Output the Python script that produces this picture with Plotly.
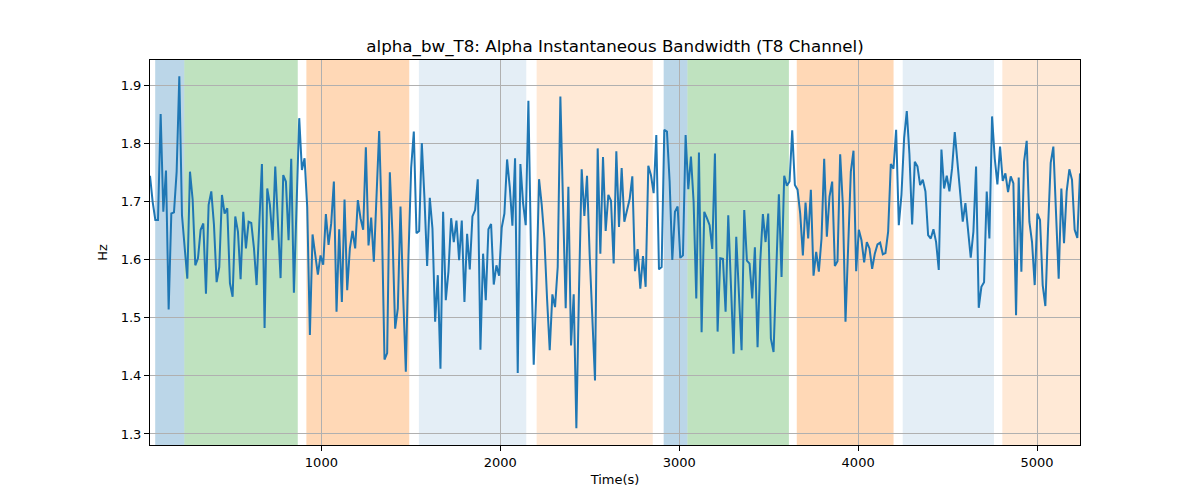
import numpy as np
import plotly.graph_objects as go

# alpha bandwidth, T8 channel (Hz) in order of time
bw = [
    1.744, 1.699, 1.668, 1.668, 1.850, 1.682, 1.753, 1.514, 1.679, 1.681,
    1.751, 1.915, 1.676, 1.623, 1.567, 1.751, 1.703, 1.590, 1.602, 1.651,
    1.662, 1.541, 1.694, 1.717, 1.660, 1.561, 1.587, 1.711, 1.679, 1.688,
    1.559, 1.536, 1.674, 1.648, 1.566, 1.682, 1.619, 1.665, 1.663, 1.620,
    1.556, 1.660, 1.764, 1.482, 1.722, 1.694, 1.633, 1.760, 1.670, 1.568,
    1.745, 1.734, 1.633, 1.773, 1.543, 1.690, 1.843,
    1.754, 1.774, 1.690, 1.470, 1.643, 1.610, 1.574, 1.607, 1.591, 1.678,
    1.625, 1.662, 1.734, 1.510, 1.652, 1.527, 1.703, 1.547, 1.619, 1.649,
    1.619, 1.702, 1.671, 1.651, 1.793, 1.624, 1.672, 1.596, 1.705, 1.821,
    1.665, 1.428, 1.439, 1.750, 1.642, 1.481, 1.516, 1.691, 1.539, 1.407,
    1.607, 1.757, 1.820, 1.645, 1.649, 1.800, 1.705, 1.589, 1.706, 1.653,
    1.493, 1.573, 1.412, 1.682, 1.530,
    1.579, 1.671, 1.630, 1.667, 1.599, 1.667, 1.527, 1.644, 1.583, 1.674,
    1.685, 1.738, 1.445, 1.610, 1.530, 1.652, 1.661, 1.557, 1.590, 1.572,
    1.655, 1.679, 1.772, 1.725, 1.658, 1.774, 1.405, 1.764, 1.697, 1.659,
    1.873, 1.607, 1.419, 1.550, 1.738, 1.694, 1.636, 1.533, 1.444, 1.540,
    1.518, 1.587, 1.880, 1.694, 1.516, 1.725, 1.452, 1.540, 1.310, 1.550,
    1.755, 1.675, 1.744, 1.607, 1.504, 1.392, 1.791,
    1.610, 1.776, 1.649, 1.711, 1.701, 1.593, 1.786, 1.656, 1.757, 1.665,
    1.682, 1.704, 1.743, 1.580, 1.618, 1.550, 1.606, 1.553, 1.761, 1.745,
    1.714, 1.814, 1.583, 1.587, 1.823, 1.820, 1.734, 1.599, 1.682, 1.691,
    1.603, 1.607, 1.814, 1.721, 1.777, 1.699, 1.533, 1.784, 1.475, 1.682,
    1.671, 1.659, 1.618, 1.782, 1.476, 1.602, 1.601, 1.510, 1.676, 1.556,
    1.438, 1.639, 1.550, 1.444, 1.685, 1.598, 1.593,
    1.533, 1.621, 1.449, 1.596, 1.678, 1.630, 1.679, 1.464, 1.441, 1.579,
    1.712, 1.570, 1.744, 1.727, 1.734, 1.822, 1.728, 1.720, 1.679, 1.607,
    1.698, 1.636, 1.720, 1.572, 1.613, 1.579, 1.636, 1.773, 1.639, 1.708,
    1.734, 1.589, 1.597, 1.781, 1.694, 1.493, 1.607, 1.751, 1.787, 1.580,
    1.651, 1.633, 1.595, 1.630, 1.619, 1.584, 1.610, 1.626, 1.629, 1.609,
    1.611, 1.648, 1.764, 1.756, 1.823, 1.659,
    1.711, 1.809, 1.855, 1.780, 1.660, 1.768, 1.760, 1.728, 1.737, 1.717,
    1.642, 1.636, 1.652, 1.630, 1.582, 1.789, 1.722, 1.744, 1.717, 1.757,
    1.819, 1.763, 1.711, 1.665, 1.697, 1.648, 1.603, 1.648, 1.760, 1.517,
    1.553, 1.561, 1.717, 1.636, 1.846, 1.774, 1.729, 1.794, 1.735, 1.748,
    1.716, 1.743, 1.731, 1.504, 1.741, 1.579, 1.768, 1.804, 1.665, 1.630,
    1.556, 1.679, 1.668, 1.556, 1.520, 1.653, 1.766, 1.794, 1.665, 1.567,
    1.722, 1.628, 1.717, 1.755, 1.737, 1.651, 1.637, 1.748,
]
t_start, t_end = 42, 5240
t = np.linspace(t_start, t_end, len(bw))

# shaded segments: start, end, colour
seg_start = [71, 234, 916, 1545, 2203, 2913, 3046, 3657, 4249, 4806]
seg_end = [234, 868, 1491, 2145, 2852, 3046, 3613, 4198, 4759, 5240]
seg_color = [
    'rgba(31,119,180,0.3)', 'rgba(44,160,44,0.3)', 'rgba(255,127,14,0.3)',
    'rgba(31,119,180,0.12)', 'rgba(255,127,14,0.17)',
    'rgba(31,119,180,0.3)', 'rgba(44,160,44,0.3)', 'rgba(255,127,14,0.3)',
    'rgba(31,119,180,0.12)', 'rgba(255,127,14,0.17)',
]

fig = go.Figure()
for s, e, c in zip(seg_start, seg_end, seg_color):
    fig.add_vrect(x0=s, x1=e, fillcolor=c, line_width=0, layer='below')

fig.add_trace(go.Scatter(x=t, y=bw, mode='lines', line=dict(color='#1f77b4', width=2), showlegend=False))

# page body adds 8px, so margins are shifted by that much
fig.update_layout(
    width=1200, height=500,
    margin=dict(l=142, r=128, t=52, b=63),
    paper_bgcolor='white', plot_bgcolor='white',
    font=dict(family='DejaVu Sans', size=13, color='black'),
    title=dict(text='alpha_bw_T8: Alpha Instantaneous Bandwidth (T8 Channel)', x=(142 + 465) / 1200, xanchor='center',
               y=1 - 38 / 500, yanchor='middle', font=dict(size=16.7)),
)
fig.update_xaxes(range=[t_start, t_end], tickvals=[1000, 2000, 3000, 4000, 5000],
                 showgrid=True, gridcolor='#b0b0b0', gridwidth=1,
                 showline=True, linecolor='black', linewidth=1, mirror=True,
                 ticks='outside', ticklen=5, tickcolor='black', zeroline=False,
                 tickfont=dict(size=13),
                 title=dict(text='Time(s)', standoff=6, font=dict(size=13)))
fig.update_yaxes(range=[1.281, 1.943], tickvals=[1.3, 1.4, 1.5, 1.6, 1.7, 1.8, 1.9], tickformat='.1f',
                 showgrid=True, gridcolor='#b0b0b0', gridwidth=1,
                 showline=True, linecolor='black', linewidth=1, mirror=True,
                 ticks='outside', ticklen=5, tickcolor='black', zeroline=False,
                 tickfont=dict(size=13),
                 title=dict(text='Hz', standoff=10, font=dict(size=13)))

fig.write_html('out.html')
